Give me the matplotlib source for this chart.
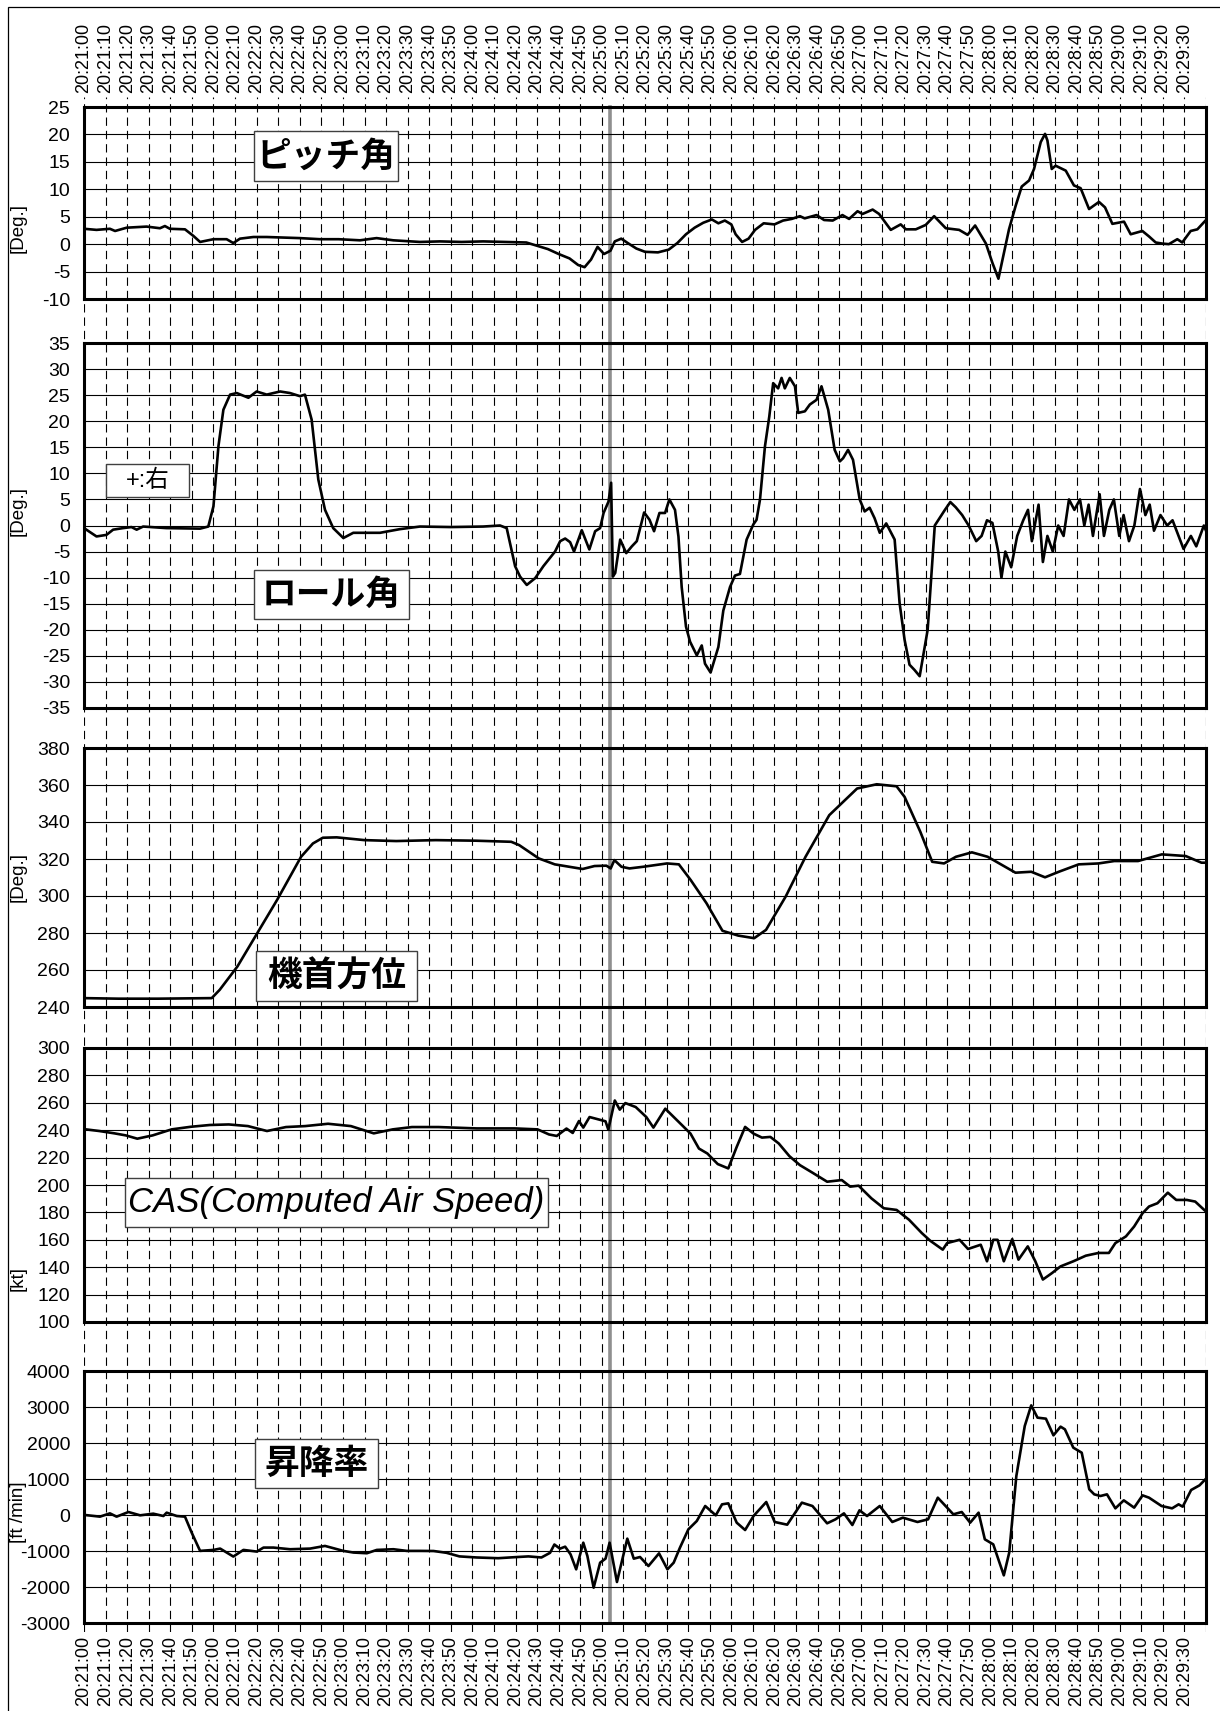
import matplotlib
matplotlib.use("Agg")
import matplotlib.pyplot as plt
from matplotlib.patches import Rectangle

plt.rcParams['font.family'] = ['Liberation Sans', 'Noto Sans CJK JP', 'DejaVu Sans']
plt.rcParams['axes.unicode_minus'] = False
plt.rcParams['lines.scale_dashes'] = False

# time in seconds after 20:21:00
t_end = 520
event_t = 244

pitch_t = [0, 5.8, 12, 14.4, 19.8, 29, 35.2, 37.5, 39.8, 46.8, 50.7, 53.8, 60, 66.1, 69.2, 72.3, 78.5, 84.7,
           100, 109.4, 118, 127.9, 135.6, 143.3, 155.7, 165, 175, 185, 195, 205, 210, 215, 220, 225, 229, 232,
           235, 238, 241, 244, 246, 249, 252, 256, 260, 266, 271, 275, 279, 283, 287, 291, 294, 297, 300, 302,
           305, 308, 311, 315, 320, 324, 328, 331.8, 334, 339.5, 343, 347, 351.5, 354.6, 358.5, 360.8, 365.5,
           368.5, 373.9, 378.5, 380.9, 385.5, 390.1, 394, 399.4, 405.6, 409.5, 413, 418, 421, 423.8, 425.7,
           428.7, 431.8, 434.6, 438, 440.3, 443.4, 445.4, 446.5, 448.5, 450.3, 455, 458.8, 461.9, 465.8, 470.4,
           473.2, 476.6, 482, 485.1, 490.5, 493.6, 496.7, 499.8, 502.8, 506.7, 509, 512.9, 516, 520]
pitch_v = [2.8, 2.6, 2.8, 2.4, 3.0, 3.2, 2.9, 3.3, 2.8, 2.7, 1.5, 0.4, 0.9, 0.9, 0.2, 1.0, 1.3, 1.3,
           1.1, 0.9, 0.9, 0.7, 1.1, 0.7, 0.4, 0.5, 0.4, 0.5, 0.4, 0.3, -0.3, -0.9, -1.8, -2.6, -3.8, -4.2,
           -2.8, -0.5, -1.8, -1.2, 0.5, 1.0, 0.2, -0.8, -1.4, -1.5, -1.0, 0.2, 1.8, 3.0, 3.9, 4.5, 3.8, 4.3, 3.6, 1.8,
           0.4, 1.0, 2.6, 3.8, 3.6, 4.3, 4.6, 5.1, 4.7, 5.3, 4.4, 4.3, 5.3, 4.6, 6.0, 5.5, 6.3,
           5.5, 2.6, 3.6, 2.7, 2.7, 3.5, 5.1, 2.9, 2.6, 1.7, 3.4, 0.1, -3.4, -6.3, -2.8,
           2.7, 7.0, 10.5, 11.6, 13.7, 18.6, 20.1, 18.9, 13.7, 14.3, 13.4, 10.7, 10.2, 6.4, 7.7,
           6.7, 3.7, 4.1, 1.8, 2.4, 1.4, 0.3, 0.1, 0.0, 0.9, 0.3, 2.4, 2.7, 4.4]

roll_t = [0, 5.8, 10.4, 13.5, 18.1, 22, 24.4, 27.4, 38.2, 53.8, 57.6, 60, 62.3, 64.6, 67.7, 70.8, 76.2, 80,
          84.7, 90.9, 95.5, 100.1, 102.4, 105.5, 108.6, 111.7, 115.5, 120.2, 124.8, 131, 137.2, 146.4, 155.7,
          170, 185, 192.8, 195.9, 199.8, 202.1, 205.2, 209.1, 212.9, 218.3, 220.7, 223, 225.3, 227.1, 230.7,
          234.2, 236.9, 239.2, 240.8, 243.1, 244.3, 245.1, 246.2, 248.5, 251.3, 253.9, 256.2, 259.6, 262.1,
          264.2, 266.7, 269.3, 271.3, 273.9, 275.5, 277, 279, 280.9, 284, 286.3, 287.8, 290.4, 294, 296.3,
          299.4, 301.7, 304, 307.1, 310.2, 311.7, 313.3, 315.6, 317.6, 319.4, 321.7, 323.3, 324.8, 327.1,
          329.5, 331, 334.1, 336.4, 339.5, 341.8, 344.9, 347.9, 350.3, 351.8, 354.1, 356.4, 359.5, 361.8,
          364.1, 366.4, 368.8, 371.8, 375.7, 378, 380.3, 382.6, 384.9, 387.3, 391, 394.3, 399, 401.5, 404,
          407, 410, 413.5, 416, 418.5, 421, 423.7, 425.2, 427, 429.7, 432.5, 435.3, 437.5, 439.3, 442.4,
          444.4, 446.5, 449, 451.5, 454, 456.5, 459, 461.6, 463.6, 465.6, 467.6, 470.7, 472.7, 475.2, 477.3,
          479.8, 481.8, 484.3, 486.8, 489.4, 491.9, 493.9, 495.9, 498.9, 502, 504.5, 509.6, 513, 515.5, 519, 520]
roll_v = [-0.5, -2.1, -1.8, -0.8, -0.5, -0.3, -0.8, -0.2, -0.5, -0.6, -0.2, 3.7, 15.2, 22.2, 25.1, 25.4, 24.5, 25.7,
          25.1, 25.7, 25.4, 24.8, 25.1, 20.3, 8.8, 3.0, -0.5, -2.4, -1.4, -1.4, -1.4, -0.7, -0.2,
          -0.3, -0.2, 0.0, -0.5, -7.8, -9.8, -11.4, -10.1, -7.8, -5.0, -3.0, -2.5, -3.2, -5.0, -0.9,
          -4.6, -1.1, -0.5, 2.4, 4.6, 8.2, -9.8, -9.1, -2.7, -5.3, -4.0, -3.0, 2.5, 1.1,
          -1.1, 2.4, 2.4, 5.0, 3.0, -2.1, -11.8, -19.4, -22.3, -24.9, -23.0, -26.5, -28.2, -23.3, -16.3,
          -11.8, -9.6, -9.3, -2.7, 0.2, 1.1, 5.0, 15.2, 20.9, 27.3, 26.3, 28.3, 26.3, 28.3,
          26.7, 21.6, 21.9, 23.2, 24.1, 26.7, 22.2, 14.5, 12.3, 12.9, 14.5, 12.6, 5.0, 2.7,
          3.4, 1.4, -1.4, 0.4, -2.7, -14.9, -21.9, -26.7, -27.7, -28.9, -20, 0, 3, 4.5, 3.5,
          2, 0, -3, -2, 1, 0.5, -5, -10, -5, -8, -2, 1, 3, -3, 4,
          -7, -2, -5, 0, -2, 5, 3, 5, 0, 4, -2, 6, -2, 3, 5,
          -2, 2, -3, 0, 7, 2, 4, -1, 2, 0, 1, -4.5, -2, -4, 0, -1]

heading_t = [0, 16, 34.4, 59.2, 62.9, 71.1, 80.3, 89.5, 100.6, 106.1, 110.7, 117.1, 130, 144.7, 163, 181.4,
             198, 201.7, 210.8, 218.2, 231.1, 236.6, 242.1, 244.1, 245.8, 249.1, 252.8, 259.2, 270.2, 275.7,
             281.2, 288.5, 295.9, 303.2, 310.6, 316.1, 325.2, 334.4, 345.4, 358.3, 367.4, 376.6, 380.3, 387.6,
             393.1, 398.6, 404.1, 411.5, 418.8, 431.7, 439, 445.4, 451.8, 461, 470.2, 477.5, 488.5, 499.5,
             510.6, 517.9, 520]
heading_v = [244.8, 244.5, 244.5, 244.8, 249.3, 261.9, 279.9, 297.9, 321.2, 328.4, 331.5, 331.7, 330.2, 329.7, 330.2, 329.9,
             329.3, 327.5, 320.3, 317.1, 314.6, 316.2, 316.4, 314.9, 319.4, 315.8, 314.9, 315.8, 317.6, 317.1,
             308.6, 296.1, 281.2, 278.6, 277.2, 281.7, 299.7, 321.2, 343.7, 358.1, 360.4, 359.3, 353.6, 334.7,
             318.5, 317.6, 321.2, 323.6, 321.2, 312.6, 313.1, 310.1, 313.1, 317.1, 317.6, 318.9, 318.9, 322.5,
             321.6, 318.0, 318.0]

cas_t = [0.9, 7.1, 14.1, 19.4, 24.7, 31.8, 40.6, 49.5, 58.3, 67.1, 76, 84.8, 93.6, 102.5, 113.1, 123.7, 134.3,
         143.1, 152, 164.3, 182, 199.6, 210.2, 215.5, 219.1, 223.6, 226.5, 229.4, 231.4, 234.3, 237.2, 241.7,
         243, 246, 248.3, 250.9, 255.7, 260.6, 263.9, 269.4, 277.2, 281.1, 285, 288.9, 293.7, 298.6, 302.5,
         306.4, 310.3, 314.2, 318.1, 322, 326.9, 331.8, 337.6, 344.4, 351.2, 355.1, 359, 364.9, 370.7, 376.6,
         382.4, 388.3, 392.2, 398, 400, 405.8, 409.7, 415.6, 418.5, 421.4, 423.4, 426.3, 430.2, 433.1, 437.4,
         440.9, 444.4, 448.7, 452.6, 458.5, 464.3, 470.2, 475, 478, 482.9, 486.7, 490.6, 493.6, 497.5, 502.3,
         506.2, 511.1, 515, 520]
cas_v = [240.6, 239.4, 237.7, 236.2, 233.8, 236.2, 240.6, 242.5, 243.8, 244.2, 243.0, 239.4, 242.3, 243.0, 244.7, 243.0, 237.7,
         240.6, 242.3, 242.3, 241.3, 241.3, 240.6, 236.9, 235.8, 241.2, 238.0, 246.7, 241.9, 249.6, 248.4, 246.5,
         240.4, 261.7, 255.0, 259.8, 256.9, 249.6, 241.9, 255.7, 243.6, 237.5, 226.6, 223.0, 215.3, 212.1, 227.8,
         242.4, 237.5, 234.6, 235.1, 230.3, 221.1, 214.5, 209.0, 202.4, 203.6, 198.8, 199.5, 190.3, 183.0, 181.8,
         174.6, 164.9, 159.3, 152.8, 157.6, 160.0, 153.3, 156.4, 144.3, 160.0, 160.0, 144.3, 160.5, 145.5, 155.2,
         144.3, 131.0, 135.8, 140.6, 144.3, 148.4, 150.4, 150.4, 157.6, 162.5, 169.7, 179.4, 184.3, 186.7, 194.4,
         189.1, 189.1, 187.9, 180.6]

vs_t = [0.5, 7.4, 12, 15.1, 20.6, 26, 32.1, 36.8, 38.3, 43, 46.8, 49.9, 53.8, 60, 63.1, 69.2, 73.9, 80.1, 83.2,
        87.8, 95.5, 104.8, 111.7, 120.2, 124.9, 131.1, 135.7, 143.4, 149.6, 155.8, 162, 168, 174, 182, 192, 200,
        206, 212, 216, 218, 220.6, 223, 225.5, 228.1, 231.4, 233.3, 236.2, 239.2, 241.7, 243.6, 247, 249.5,
        251.8, 254.8, 257.7, 261.6, 266.5, 270.4, 273.3, 276.2, 280.1, 284, 287.9, 292.8, 295.7, 298.6, 302.5,
        306.4, 310.3, 316.2, 320.1, 325.9, 332.7, 337.6, 344.4, 348.3, 352.2, 356.1, 359.4, 362.9, 368.8, 374.6,
        379.5, 386.3, 391.2, 395.7, 402.9, 406.8, 410.7, 414.6, 417.5, 421.4, 426.3, 428.8, 432.1, 436, 439,
        441.9, 445.8, 449.3, 452.6, 454.6, 458.5, 462.4, 465.9, 468.2, 471.1, 474.1, 478, 481.9, 486.7, 490.6,
        493.6, 499.4, 504.3, 507.3, 509.2, 513.1, 517, 520]
vs_v = [0, -46, 46, -46, 83, -9, 37, -28, 65, -28, -46, -489, -997, -970, -933, -1154, -970, -1016, -905,
        -905, -951, -933, -859, -997, -1043, -1062, -970, -951, -997, -997, -1000, -1050, -1150, -1180, -1200, -1170,
        -1150, -1180, -1050, -820, -935, -880, -1093, -1509, -769, -1139, -2019, -1324, -1213, -769, -1861, -1231,
        -657, -1213, -1167, -1417, -1065, -1509, -1324, -907, -398, -167, 250, -9, 296, 324, -213,
        -417, -28, 361, -194, -269, 343, 250, -231, -120, 46, -278, 130, -28, 250, -194,
        -74, -194, -120, 481, 19, 83, -213, 65, -676, -815, -1676, -1046, 1083, 2472, 3046,
        2704, 2676, 2213, 2454, 2380, 1870, 1731, 713, 574, 528, 574, 185, 407, 204, 546,
        481, 250, 185, 296, 231, 694, 824, 1009]

tick_secs = list(range(0, t_end, 10))
tick_labels = ["20:%02d:%02d" % (21 + s // 60, s % 60) for s in tick_secs]

W, H = 1220, 1711


def rect(x0, y0, x1, y1):
    # pixel box (top-left origin) -> figure fraction
    return [x0 / W, 1 - y1 / H, (x1 - x0) / W, (y1 - y0) / H]


fig = plt.figure(figsize=(W / 100, H / 100), dpi=100)
fig.patch.set_facecolor('white')

# outer frame (only left / top visible)
fig.add_artist(Rectangle((8 / W, -0.02), 1.1, 1 - 7 / H + 0.02, transform=fig.transFigure,
                         fill=False, ec='black', lw=0.9, zorder=0))

# background axes: time labels, dashed grid and event line
bg = fig.add_axes(rect(84, 97, 1206, 1632), zorder=0)
bg.set_xlim(0, t_end)
bg.set_ylim(0, 1)
for s in bg.spines.values():
    s.set_visible(False)
bg.set_yticks([])
bg.set_xticks(tick_secs)
bg.set_xticklabels(tick_labels)
bg.tick_params(axis='x', top=True, labeltop=True, bottom=True, labelbottom=True,
               length=0, pad=3, labelrotation=90, labelsize=13)
for s in range(0, t_end + 1, 10):
    bg.axvline(s, color='black', lw=0.8, ls=(0, (6, 3.6)), zorder=1)
bg.axvline(event_t, ymin=(1632 - 1623) / 1535, ymax=(1632 - 107) / 1535,
           color='#8f8f8f', lw=2.6, zorder=2)

panels = [
    ((84, 107, 1206, 299), pitch_t, pitch_v, (-10, 25), range(-10, 26, 5), '[Deg.]', 0.37),
    ((84, 343, 1206, 708), roll_t, roll_v, (-35, 35), range(-35, 36, 5), '[Deg.]', 0.54),
    ((84, 748, 1206, 1007), heading_t, heading_v, (240, 380), range(240, 381, 20), '[Deg.]', 0.5),
    ((84, 1048, 1206, 1322), cas_t, cas_v, (100, 300), range(100, 301, 20), '[kt]', 0.16),
    ((84, 1371, 1206, 1623), vs_t, vs_v, (-3000, 4000), range(-3000, 4001, 1000), '[ft /min]', 0.44),
]

for box, tx, vy, ylim, yt, ylab, ly in panels:
    ax = fig.add_axes(rect(*box), zorder=1)
    ax.patch.set_alpha(0)
    ax.set_xlim(0, t_end)
    ax.set_ylim(*ylim)
    ax.set_xticks([])
    ax.set_yticks(list(yt))
    ax.yaxis.grid(True, color='black', lw=0.8)
    ax.tick_params(axis='y', length=0, pad=10, labelsize=14)
    for s in ax.spines.values():
        s.set_linewidth(2.2)
        s.set_zorder(4)
    ax.plot(tx, vy, color='black', lw=1.9, zorder=3)
    ax.set_ylabel(ylab, fontsize=13.5)
    ax.yaxis.set_label_coords(-0.051, ly)


def label_box(x0, y0, x1, y1, text, **kw):
    fig.add_artist(Rectangle((x0 / W, 1 - y1 / H), (x1 - x0) / W, (y1 - y0) / H,
                             transform=fig.transFigure, fc='white', ec='#404040', lw=1.0, zorder=5))
    fig.text((x0 + x1) / 2 / W, 1 - (y0 + y1) / 2 / H, text, ha='center', va='center',
             zorder=6, **kw)


jp = dict(fontsize=25, fontweight='bold', family=['Noto Sans CJK JP', 'DejaVu Sans'])
label_box(254, 131, 398, 181, 'ピッチ角', **jp)
label_box(254, 570, 409, 619, 'ロール角', **jp)
label_box(106, 464, 189, 497, '+:右', fontsize=17)
label_box(256, 951, 417, 1001, '機首方位', **jp)
label_box(125, 1178, 548, 1227, 'CAS(Computed Air Speed)', fontsize=25, style='italic')
label_box(255, 1439, 378, 1488, '昇降率', **jp)

fig.savefig('out.png', dpi=100)
